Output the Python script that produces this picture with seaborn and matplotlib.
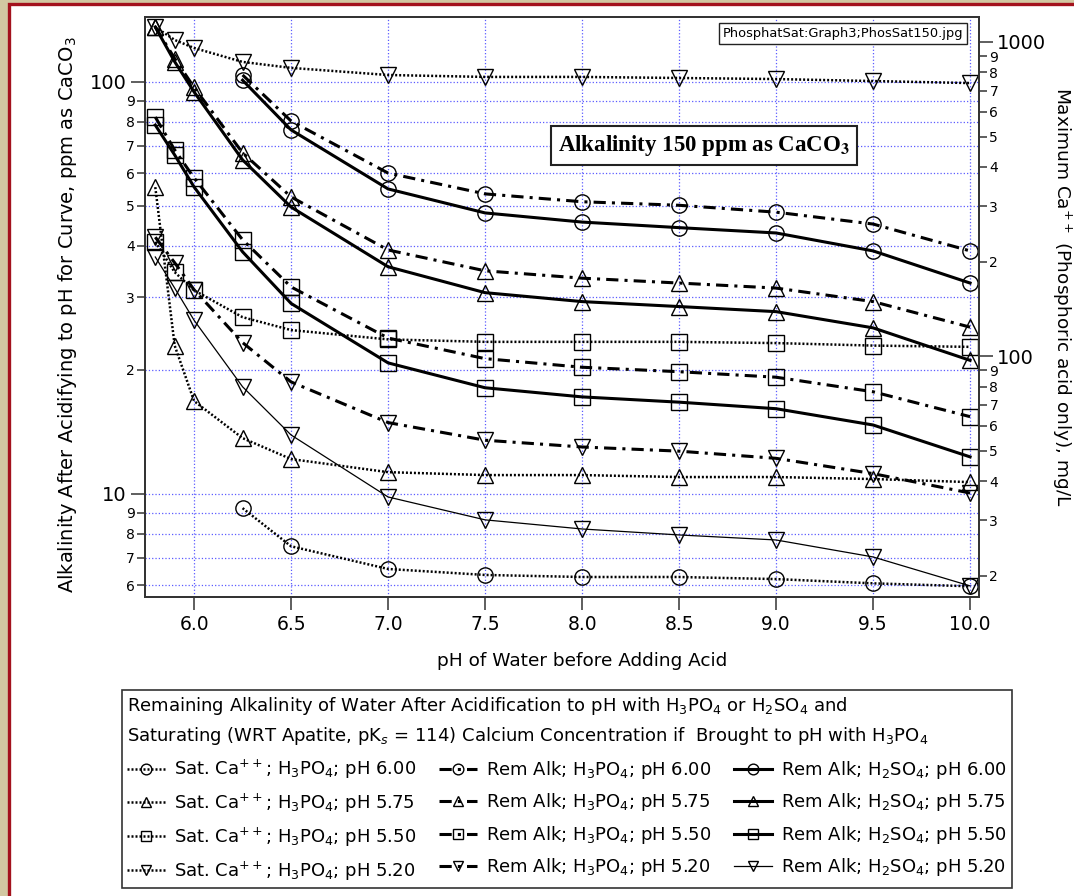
import numpy as np
import pandas as pd
import seaborn as sns
import matplotlib.pyplot as plt
from matplotlib.ticker import FixedLocator, FixedFormatter, FuncFormatter
from matplotlib.patches import Rectangle

# pH of water before adding acid
ph_all = [5.8, 5.9, 6.0, 6.25, 6.5, 7.0, 7.5, 8.0, 8.5, 9.0, 9.5, 10.0]
ph_600 = [6.25, 6.5, 7.0, 7.5, 8.0, 8.5, 9.0, 9.5, 10.0]

# saturating Ca++ (H3PO4 only), mg/L -> right axis
sat_600 = [32.8, 24.8, 21.0, 20.1, 19.8, 19.8, 19.5, 18.9, 18.5]
sat_575 = [345, 108, 71.9, 54.8, 47.0, 42.7, 41.8, 41.8, 41.2, 41.2, 40.6, 39.7]
sat_550 = [231, 185, 162, 133, 121, 113, 111, 111, 111, 110, 108, 107]
sat_520 = [1116, 1015, 957, 864, 827, 785, 774, 774, 768, 762, 751, 740]

# remaining alkalinity, acidified with H3PO4, ppm as CaCO3
h3_600 = [104, 80.4, 60.1, 53.5, 51.2, 50.2, 48.3, 45.2, 38.9]
h3_575 = [136, 114, 97, 67.3, 52.6, 39.1, 34.8, 33.4, 32.5, 31.6, 29.3, 25.4]
h3_550 = [82.2, 68.4, 58.5, 41.4, 31.8, 23.9, 21.3, 20.3, 19.8, 19.2, 17.7, 15.4]
h3_520 = [42.0, 36.4, 31.3, 23.3, 18.7, 14.9, 13.5, 13.0, 12.7, 12.2, 11.2, 10.05]

# remaining alkalinity, acidified with H2SO4
so4_600 = [101, 76.5, 55.0, 48.1, 45.7, 44.3, 43.0, 38.9, 32.5]
so4_575 = [136, 112, 94.6, 64.7, 49.7, 35.6, 30.8, 29.3, 28.5, 27.7, 25.3, 21.1]
so4_550 = [78.6, 66.5, 55.6, 38.7, 29.0, 20.8, 18.1, 17.2, 16.7, 16.1, 14.7, 12.3]
so4_520 = [37.6, 31.6, 26.4, 18.2, 13.9, 9.83, 8.65, 8.22, 7.95, 7.73, 7.03, 5.98]

ph_labels = ['6.00', '5.75', '5.50', '5.20']
markers = ['o', '^', 's', 'v']

W, H = 1074, 896
fig = plt.figure(figsize=(W / 100, H / 100), dpi=100)
fig.patch.set_facecolor('#d2c8a2')
fig.add_artist(Rectangle((8.5 / W, -0.1), 1.2, 1.1 - 4.5 / H, transform=fig.transFigure,
                         fc='white', ec='#a3121d', lw=2.4, zorder=-5))

ax = fig.add_axes([145 / W, 1 - 597 / H, 834 / W, 580 / H])
ax2 = ax.twinx()

DOT = (0, (0.8, 0.8))
DASHDOT = (0, (4, 2, 1, 2))


def draw(axis, x, y, marker, ls, lw):
    sns.lineplot(x=x, y=y, ax=axis, color='black', marker=marker, linestyle=ls,
                 linewidth=lw, markersize=11, markerfacecolor='none',
                 markeredgecolor='black', markeredgewidth=1.0, errorbar=None,
                 legend=False)
    return axis.lines[-1]


sat_sets = [(ph_600, sat_600), (ph_all, sat_575), (ph_all, sat_550), (ph_all, sat_520)]
h3_sets = [(ph_600, h3_600), (ph_all, h3_575), (ph_all, h3_550), (ph_all, h3_520)]
so4_sets = [(ph_600, so4_600), (ph_all, so4_575), (ph_all, so4_550), (ph_all, so4_520)]

handles, labels = [], []
for (x, y), m, p in zip(sat_sets, markers, ph_labels):
    handles.append(draw(ax2, x, y, m, DOT, 1.8))
    labels.append(r'Sat. Ca$^{++}$; H$_3$PO$_4$; pH ' + p)
for (x, y), m, p in zip(h3_sets, markers, ph_labels):
    handles.append(draw(ax, x, y, m, DASHDOT, 2.2))
    labels.append(r'Rem Alk; H$_3$PO$_4$; pH ' + p)
for (x, y), m, p in zip(so4_sets, markers, ph_labels):
    handles.append(draw(ax, x, y, m, '-', 2.2 if p != '5.20' else 0.9))
    labels.append(r'Rem Alk; H$_2$SO$_4$; pH ' + p)


def mant(v, pos):
    return str(int(round(v / 10 ** np.floor(np.log10(v) + 1e-9))))


# left axis
ax.set_yscale('log')
ax.set_ylim(5.62, 143.8)
ax.yaxis.set_major_locator(FixedLocator([10, 100]))
ax.yaxis.set_major_formatter(FixedFormatter(['10', '100']))
ax.yaxis.set_minor_locator(FixedLocator([6, 7, 8, 9] + list(range(20, 100, 10))))
ax.yaxis.set_minor_formatter(FuncFormatter(mant))
ax.set_xlim(5.747, 10.046)
ax.set_xticks([6.0, 6.5, 7.0, 7.5, 8.0, 8.5, 9.0, 9.5, 10.0])
ax.xaxis.set_major_formatter(FuncFormatter(lambda v, p: f'{v:.1f}'))
ax.set_xlabel('')
ax.set_ylabel('')
ax.set_axisbelow(True)
ax.grid(True, which='both', axis='y', color='#5b5bff', linestyle=':', linewidth=0.9)
ax.grid(True, which='major', axis='x', color='#5b5bff', linestyle=':', linewidth=0.9)

# right axis
ax2.set_yscale('log')
ax2.set_ylim(17.1, 1201)
ax2.yaxis.set_major_locator(FixedLocator([100, 1000]))
ax2.yaxis.set_major_formatter(FixedFormatter(['100', '1000']))
ax2.yaxis.set_minor_locator(FixedLocator(list(range(20, 100, 10)) + list(range(200, 1000, 100))))
ax2.yaxis.set_minor_formatter(FuncFormatter(mant))
ax2.set_ylabel('')

for a in (ax, ax2):
    a.tick_params(axis='y', which='major', length=10, width=1.1, labelsize=14, pad=3, color='#333333')
    a.tick_params(axis='y', which='minor', length=5.5, width=1.1, labelsize=10, pad=2, color='#333333')
    for s in a.spines.values():
        s.set_linewidth(1.3)
        s.set_color('#333333')
ax.tick_params(axis='x', which='major', length=9, width=1.1, labelsize=13.5, pad=4, color='#333333')

fig.text(68 / W, 1 - 315 / H, r'Alkalinity After Acidifying to pH for Curve, ppm as CaCO$_3$',
         rotation=90, ha='center', va='center', fontsize=14)
fig.text(582 / W, 1 - 661 / H, 'pH of Water before Adding Acid', ha='center', va='center', fontsize=13.3)
fig.text(1062 / W, 1 - 297 / H, r'Maximum Ca$^{++}$ (Phosphoric acid only), mg/L',
         rotation=270, ha='center', va='center', fontsize=13.3)

ax2.text(0.670, 0.778, r'Alkalinity 150 ppm as CaCO$_\mathbf{3}$', transform=ax2.transAxes,
         fontsize=16.5, fontweight='bold', family='Liberation Serif', math_fontfamily='stix',
         ha='center', va='center', zorder=10,
         bbox=dict(boxstyle='square,pad=0.3', fc='white', ec='#222222', lw=1.5))
ax2.text(0.981, 0.971, 'PhosphatSat:Graph3;PhosSat150.jpg', transform=ax2.transAxes,
         fontsize=9.4, ha='right', va='center', zorder=10,
         bbox=dict(boxstyle='square,pad=0.3', fc='white', ec='#222222', lw=1.0))

title = (r'Remaining Alkalinity of Water After Acidification to pH with H$_3$PO$_4$ or H$_2$SO$_4$ and'
         '\n'
         r'Saturating (WRT Apatite, pK$_s$ = 114) Calcium Concentration if  Brought to pH with H$_3$PO$_4$')
leg = fig.legend(handles, labels, loc='upper left', bbox_to_anchor=(122 / W, 1 - 690 / H),
                 ncol=3, fontsize=13, title=title, title_fontsize=13, alignment='left',
                 frameon=True, fancybox=False, edgecolor='black', borderaxespad=0,
                 borderpad=0.3, handlelength=2.1, handletextpad=0.5, columnspacing=1.25,
                 labelspacing=0.58, markerscale=0.7)
leg.get_frame().set_linewidth(1.2)
leg.get_title().set_linespacing(1.5)

fig.savefig('out.png', dpi=100, facecolor=fig.get_facecolor())
